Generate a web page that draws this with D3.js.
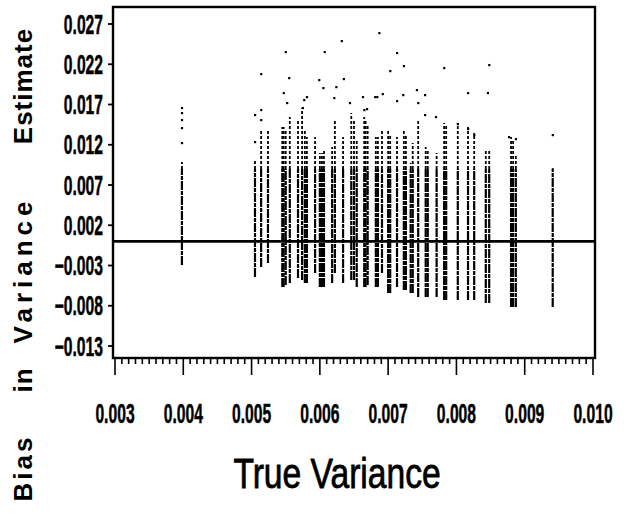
<!DOCTYPE html>
<html>
<head>
<meta charset="utf-8">
<script src="https://cdn.jsdelivr.net/npm/d3@7/dist/d3.min.js"></script>
<style>
  body { margin: 0; background: #fff; }
  text { fill: #000; }
</style>
</head>
<body>
<svg width="624" height="518"></svg>
<script>
var svg = d3.select('svg');

// tick values
var xTicks = [0.003, 0.004, 0.005, 0.006, 0.007, 0.008, 0.009, 0.010];
var yTicks = [-0.013, -0.008, -0.003, 0.002, 0.007, 0.012, 0.017, 0.022, 0.027];

// vertical stripes: true variance, lowest and highest bias of the dense run
var stripeX  = [0.00398, 0.00505, 0.00514, 0.00524, 0.00545, 0.00547, 0.00550, 0.00556, 0.00568, 0.00574,
                0.00578, 0.00581, 0.00593, 0.00600, 0.00603, 0.00606, 0.00618, 0.00622, 0.00634, 0.00646,
                0.00650, 0.00654, 0.00665, 0.00667, 0.00670, 0.00682, 0.00685, 0.00691, 0.00700, 0.00703,
                0.00713, 0.00723, 0.00726, 0.00733, 0.00736, 0.00744, 0.00755, 0.00758, 0.00771, 0.00782,
                0.00785, 0.00802, 0.00817, 0.00826, 0.00843, 0.00848, 0.00880, 0.00883, 0.00887, 0.00941];
var stripeHi = [0.00986, 0.01011, 0.01383, 0.01383, 0.01421, 0.01421, 0.01383, 0.01545, 0.01507, 0.01657,
                0.01383, 0.01296, 0.01296, 0.01098, 0.01098, 0.01135, 0.01172, 0.01507, 0.01296, 0.01594,
                0.01507, 0.01259, 0.01545, 0.01507, 0.01445, 0.01296, 0.01296, 0.01383, 0.01383, 0.01321,
                0.01296, 0.01383, 0.01321, 0.00973, 0.01222, 0.01507, 0.01172, 0.01135, 0.01098, 0.01470,
                0.01445, 0.01470, 0.01421, 0.01346, 0.01135, 0.01135, 0.01296, 0.01259, 0.01073, 0.00911];
var stripeLo = [-0.00294, -0.00443, -0.00319, -0.00269, -0.00567, -0.00567, -0.00542, -0.00517, -0.00455, -0.00480,
                -0.00517, -0.00517, -0.00393, -0.00567, -0.00567, -0.00567, -0.00517, -0.00393, -0.00517, -0.00480,
                -0.00480, -0.00567, -0.00567, -0.00567, -0.00542, -0.00567, -0.00567, -0.00393, -0.00642, -0.00642,
                -0.00567, -0.00604, -0.00604, -0.00642, -0.00642, -0.00691, -0.00691, -0.00691, -0.00691, -0.00729,
                -0.00729, -0.00729, -0.00729, -0.00729, -0.00766, -0.00766, -0.00815, -0.00815, -0.00815, -0.00815];

// scattered points above the stripes
var outX = [0.00398, 0.00398, 0.00398, 0.00398, 0.00398, 0.00505, 0.00505, 0.00687, 0.00632, 0.00550,
            0.00607, 0.00713, 0.00723, 0.00703, 0.00514, 0.00555, 0.00599, 0.00635, 0.00624, 0.00605,
            0.00547, 0.00581, 0.00621, 0.00684, 0.00692, 0.00742, 0.00552, 0.00575, 0.00644, 0.00669,
            0.00713, 0.00754, 0.00754, 0.00770, 0.00782, 0.00817, 0.00846, 0.00848, 0.00802, 0.00817,
            0.00826, 0.00877, 0.00887, 0.00941, 0.00514, 0.00514, 0.00577, 0.00663, 0.00665, 0.00681,
            0.00722, 0.00744];
var outY = [0.01657, 0.01594, 0.01507, 0.01408, 0.01222, 0.01570, 0.01234, 0.02588, 0.02489, 0.02352,
            0.02352, 0.02340, 0.02178, 0.02116, 0.02079, 0.02029, 0.02004, 0.02017, 0.01917, 0.01905,
            0.01843, 0.01793, 0.01781, 0.01793, 0.01830, 0.01880, 0.01719, 0.01657, 0.01719, 0.01644,
            0.01743, 0.01818, 0.01570, 0.01545, 0.02153, 0.01843, 0.01843, 0.02191, 0.01458, 0.01396,
            0.01321, 0.01296, 0.01271, 0.01321, 0.01632, 0.01507, 0.01756, 0.01793, 0.01632, 0.01793,
            0.01818, 0.01719];

var frame = {l: 113, t: 7, r: 595, b: 358};
var labelFont = '"Liberation Sans", Arial, sans-serif';

var xScale = d3.scaleLinear().domain([0.003, 0.010]).range([115, 593]);
var yScale = d3.scaleLinear().domain([-0.013, 0.027]).range([346, 24]);
var fmt = function(d) { return d3.format('.3f')(d).replace('-', '\u2212'); };

// stripes: solid lower run, dotted upper run
var split = 0.009;
var stripes = stripeX.map(function(x, i) {
    return {x: x, lo: stripeLo[i], hi: stripeHi[i]};
});

svg.append('g').selectAll('line')
    .data(stripes)
    .enter().append('line')
    .attr('x1', function(d) { return xScale(d.x); })
    .attr('x2', function(d) { return xScale(d.x); })
    .attr('y1', function(d) { return yScale(d.lo); })
    .attr('y2', function(d) { return yScale(Math.min(d.hi, split)); })
    .attr('stroke', '#000')
    .attr('stroke-width', 2.2)
    .attr('stroke-dasharray', '9,1,4,1');

svg.append('g').selectAll('line')
    .data(stripes.filter(function(d) { return d.hi > split; }))
    .enter().append('line')
    .attr('x1', function(d) { return xScale(d.x); })
    .attr('x2', function(d) { return xScale(d.x); })
    .attr('y1', function(d) { return yScale(split); })
    .attr('y2', function(d) { return yScale(d.hi); })
    .attr('stroke', '#000')
    .attr('stroke-width', 1.8)
    .attr('stroke-dasharray', '3,2');

svg.append('g').selectAll('rect')
    .data(outX)
    .enter().append('rect')
    .attr('x', function(d) { return xScale(d) - 1; })
    .attr('y', function(d, i) { return yScale(outY[i]) - 1; })
    .attr('width', 2.2)
    .attr('height', 2.2)
    .attr('fill', '#000');

// zero line
svg.append('line')
    .attr('x1', frame.l).attr('x2', frame.r)
    .attr('y1', yScale(0)).attr('y2', yScale(0))
    .attr('stroke', '#000').attr('stroke-width', 2.8);

// frame
svg.append('rect')
    .attr('x', frame.l).attr('y', frame.t)
    .attr('width', frame.r - frame.l).attr('height', frame.b - frame.t)
    .attr('fill', 'none').attr('stroke', '#000').attr('stroke-width', 2.4);

// y ticks and labels
var yAxisG = svg.append('g');
yAxisG.selectAll('line')
    .data(yTicks)
    .enter().append('line')
    .attr('x1', frame.l - 5).attr('x2', frame.l)
    .attr('y1', function(d) { return yScale(d); })
    .attr('y2', function(d) { return yScale(d); })
    .attr('stroke', '#000').attr('stroke-width', 1.8);

yAxisG.selectAll('text')
    .data(yTicks)
    .enter().append('text')
    .attr('transform', function(d) { return 'translate(' + [103, yScale(d) + 9.5] + ') scale(0.58,1)'; })
    .attr('text-anchor', 'end')
    .attr('stroke', '#000').attr('stroke-width', 0.5)
    .style('font-family', labelFont)
    .style('font-weight', 'bold')
    .style('font-size', '27px')
    .text(fmt);

// x ticks (minor every 0.0001) and labels
var xAxisG = svg.append('g');
xAxisG.selectAll('line')
    .data(xScale.ticks(70))
    .enter().append('line')
    .attr('x1', function(d) { return xScale(d); })
    .attr('x2', function(d) { return xScale(d); })
    .attr('y1', frame.b)
    .attr('y2', function(d, i) { return i % 10 === 0 ? frame.b + 17 : frame.b + 6; })
    .attr('stroke', '#000').attr('stroke-width', 1.6);

xAxisG.selectAll('text')
    .data(xTicks)
    .enter().append('text')
    .attr('transform', function(d) { return 'translate(' + [xScale(d), 423] + ') scale(0.58,1)'; })
    .attr('text-anchor', 'middle')
    .attr('stroke', '#000').attr('stroke-width', 0.5)
    .style('font-family', labelFont)
    .style('font-weight', 'bold')
    .style('font-size', '27px')
    .text(fmt);

// axis titles
svg.append('text')
    .attr('transform', 'translate(337,488) scale(0.8,1)')
    .attr('text-anchor', 'middle')
    .attr('stroke', '#000').attr('stroke-width', 0.8)
    .style('font-family', labelFont)
    .style('font-size', '42px')
    .text('True Variance');

var yTitle = [
    {w: 'Estimate', c: 86, s: 1},
    {w: 'Variance', c: 270, s: 5},
    {w: 'in', c: 380, s: 1},
    {w: 'Bias', c: 468, s: 3}
];
svg.append('g').selectAll('text')
    .data(yTitle)
    .enter().append('text')
    .attr('transform', function(d) { return 'translate(' + [32, d.c] + ') rotate(-90)'; })
    .attr('text-anchor', 'middle')
    .style('font-family', labelFont)
    .style('font-weight', 'bold')
    .style('font-size', '26px')
    .style('letter-spacing', function(d) { return d.s + 'px'; })
    .text(function(d) { return d.w; });
</script>
</body>
</html>
